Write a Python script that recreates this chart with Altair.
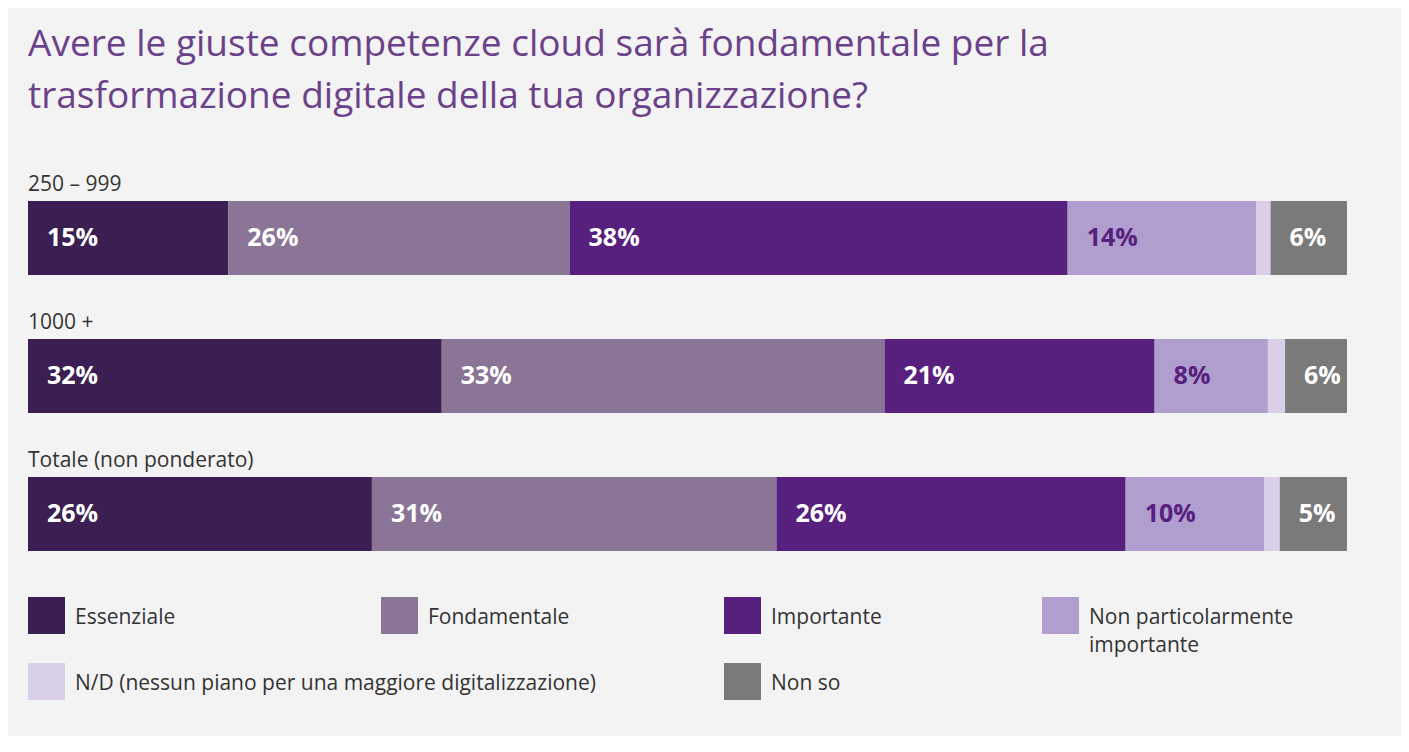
import altair as alt
import pandas as pd

FONT = "Open Sans"

rows = ["250 – 999", "1000 +", "Totale (non ponderato)"]
categories = [
    "Essenziale",
    "Fondamentale",
    "Importante",
    "Non particolarmente importante",
    "N/D (nessun piano per una maggiore digitalizzazione)",
    "Non so",
]
colors = ["#3b1f52", "#8a7596", "#58207e", "#b09ece", "#d9cfe9", "#7a7a7a"]

values_250 = [15.2, 25.9, 37.8, 14.3, 1.1, 5.8]
values_1000 = [31.4, 33.6, 20.5, 8.6, 1.3, 4.7]
values_tot = [26.1, 30.7, 26.5, 10.5, 1.2, 5.1]
labels_250 = ["15%", "26%", "38%", "14%", "", "6%"]
labels_1000 = ["32%", "33%", "21%", "8%", "", "6%"]
labels_tot = ["26%", "31%", "26%", "10%", "", "5%"]

legend_labels = [
    "Essenziale",
    "Fondamentale",
    "Importante",
    "Non particolarmente\nimportante",
    "N/D (nessun piano per una maggiore digitalizzazione)",
    "Non so",
]
legend_col = [0, 1, 2, 3, 0, 2]
legend_row = [0, 0, 0, 0, 1, 1]

title_lines = [
    "Avere le giuste competenze cloud sarà fondamentale per la",
    "trasformazione digitale della tua organizzazione?",
]

recs = []
for r, vals, labs in zip(rows, [values_250, values_1000, values_tot], [labels_250, labels_1000, labels_tot]):
    for i, (c, v, l) in enumerate(zip(categories, vals, labs)):
        recs.append({"row": r, "cat": c, "order": i, "value": v, "label": l})
df = pd.DataFrame(recs)

color_scale = alt.Scale(domain=categories, range=colors)
y_enc = alt.Y("row:N", sort=rows, axis=None,
              scale=alt.Scale(paddingInner=0.4638, paddingOuter=0))

base = alt.Chart(df).transform_stack(
    stack="value", groupby=["row"], as_=["x0", "x1"],
    sort=[alt.SortField("order", order="ascending")], offset="normalize"
)
x_scale = alt.Scale(domain=[0, 1], nice=False, zero=False)

bars = base.mark_bar(cornerRadius=0).encode(
    x=alt.X("x0:Q", scale=x_scale, axis=None),
    x2="x1:Q",
    y=y_enc,
    color=alt.Color("cat:N", scale=color_scale, legend=None),
)

bar_text = base.transform_filter(alt.datum.label != "").mark_text(
    align="left", baseline="middle", dx=19, fontSize=25, fontWeight="bold", font=FONT
).encode(
    x=alt.X("x0:Q", scale=x_scale, axis=None),
    y=y_enc,
    text="label:N",
    color=alt.condition(alt.datum.cat == "Non particolarmente importante",
                        alt.value("#58207e"), alt.value("#ffffff")),
)

row_df = pd.DataFrame({"row": rows})
row_text = alt.Chart(row_df).mark_text(
    align="left", baseline="alphabetic", dy=-10, fontSize=21, font=FONT, color="#333333"
).encode(
    x=alt.value(0),
    y=alt.Y("row:N", sort=rows, axis=None, bandPosition=0,
            scale=alt.Scale(paddingInner=0.4638, paddingOuter=0)),
    text="row:N",
)

bars_chart = alt.layer(bars, bar_text, row_text).properties(width=1319, height=350)

leg_df = pd.DataFrame({"cat": categories, "label": legend_labels,
                       "col": legend_col, "row": legend_row})
leg_x = alt.X("col:Q", axis=None,
              scale=alt.Scale(domain=[0, 1, 2, 3], range=[18.5, 371.5, 714.5, 1032.5]))
leg_y = alt.Y("row:Q", axis=None, scale=alt.Scale(domain=[0, 1], range=[18.5, 84.5]))

swatches = alt.Chart(leg_df).mark_square(size=37 * 37, opacity=1).encode(
    x=leg_x, y=leg_y,
    color=alt.Color("cat:N", scale=color_scale, legend=None),
)
leg_text = alt.Chart(leg_df).mark_text(
    align="left", baseline="alphabetic", dx=28.5, dy=8, fontSize=21, font=FONT,
    color="#333333", lineBreak="\n", lineHeight=28,
).encode(x=leg_x, y=leg_y, text="label:N")

legend_chart = alt.layer(swatches, leg_text).properties(width=1319, height=110)

chart = alt.vconcat(bars_chart, legend_chart, spacing=46).properties(
    title=alt.TitleParams(
        text=title_lines, anchor="start", fontSize=37, font=FONT, fontWeight="normal",
        color="#6b4189", lineHeight=52, offset=58,
    ),
    padding={"left": 20, "top": 18, "right": 54, "bottom": 29},
    background="#f3f3f3",
).configure_view(stroke=None).configure_concat(spacing=46)

chart.save("out.html", embed_options={"renderer": "svg", "actions": False})
